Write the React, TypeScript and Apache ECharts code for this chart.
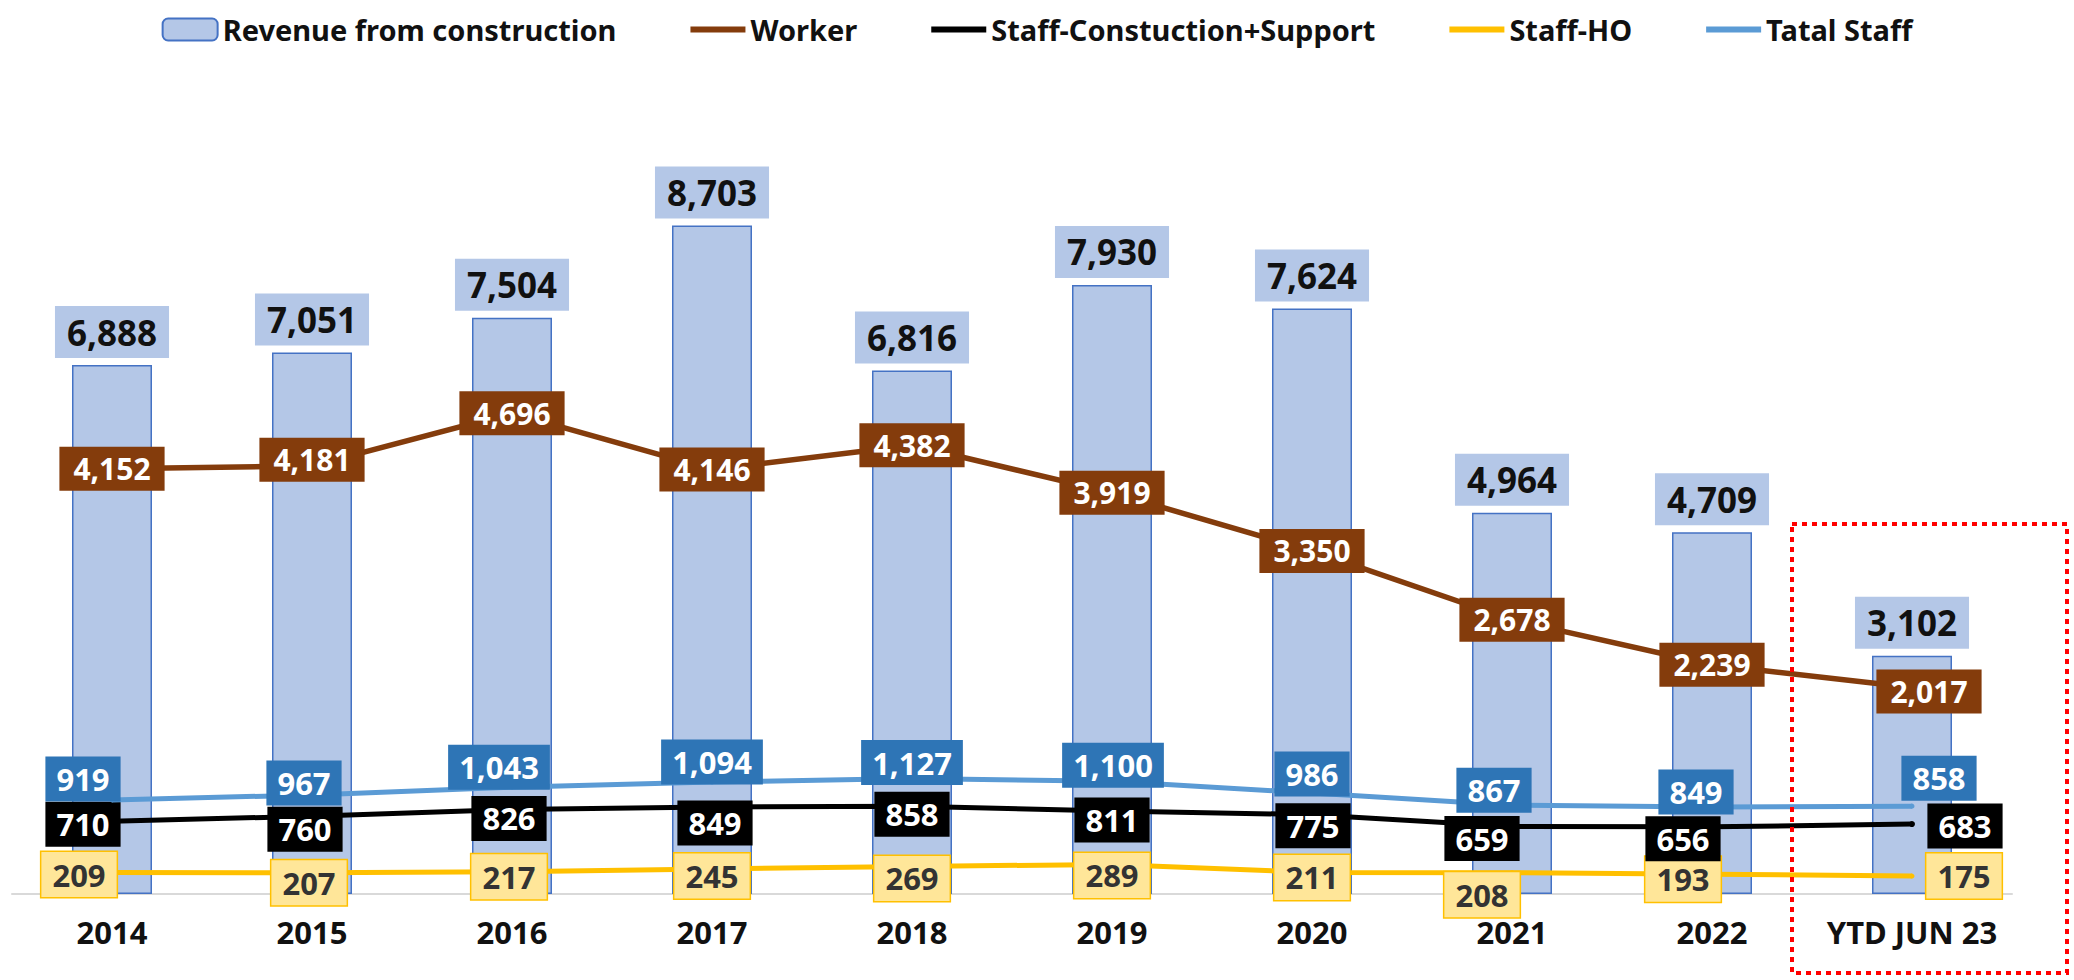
import React, { useEffect, useRef } from "react";
import * as echarts from "echarts";

const categories = ["2014", "2015", "2016", "2017", "2018", "2019", "2020", "2021", "2022", "YTD JUN 23"];
const revenue = [6888, 7051, 7504, 8703, 6816, 7930, 7624, 4964, 4709, 3102];
const worker = [4152, 4181, 4696, 4146, 4382, 3919, 3350, 2678, 2239, 2017];
const staffConstSupport = [710, 760, 826, 849, 858, 811, 775, 659, 656, 683];
const staffHO = [209, 207, 217, 245, 269, 289, 211, 208, 193, 175];
const totalStaff = [919, 967, 1043, 1094, 1127, 1100, 986, 867, 849, 858];

const FONT = "'Noto Sans', 'Open Sans', sans-serif";
const fmt = (p: any) => Number(p.value).toLocaleString("en-US");

export default function App() {
  const ref = useRef<HTMLDivElement>(null);

  useEffect(() => {
    if (!ref.current) return;
    const chart = echarts.init(ref.current, null, { renderer: "svg" });

    // label nudges (style only)
    const workerShift = [[0, 0], [0, -6], [0, 0], [0, 0], [0, 0], [0, 0], [0, 0], [0, 0], [0, 0], [17, 4]];
    const totalShift = [[-29, -21], [-8, -12], [-13, -20], [0, -20], [0, -16], [1, -16], [0, -19], [-18, -15], [-16, -15], [27, -28]];
    const blackShift = [[-29, 3], [-7, 13], [-3, 9], [3, 16], [0, 8], [0, 9], [1, 11], [-30, 12], [-29, 12], [53, 2]];
    const hoShift = [[-33, 2], [-3, 10], [-3, 5], [0, 7], [0, 12], [0, 11], [0, 5], [-30, 22], [-29, 5], [52, 0]];

    const withShift = (vals: number[], shifts: number[][]) =>
      vals.map((v, i) => ({ value: v, label: { offset: shifts[i] } }));

    const lineLabel = (bg: string, color: string, size: number, padH: number, border?: string) => ({
      show: true,
      position: "inside",
      formatter: fmt,
      backgroundColor: bg,
      borderColor: border || bg,
      borderWidth: border ? 1.5 : 0,
      color,
      fontSize: size,
      lineHeight: size + 6,
      fontWeight: "bold",
      fontFamily: FONT,
      padding: [4, padH],
    });

    // legend line icon: thick bar centered in a 55x22 box
    const lineIcon = "path://M0,0 M55,22 M0,8 L55,8 L55,14 L0,14 Z";

    const option: any = {
      animation: false,
      backgroundColor: "#ffffff",
      textStyle: { fontFamily: FONT },
      legend: {
        top: 10,
        left: "center",
        itemWidth: 55,
        itemHeight: 22,
        itemGap: 74,
        textStyle: { fontSize: 29, fontWeight: "bold", color: "#111", fontFamily: FONT },
        data: [
          { name: "Revenue from construction" },
          { name: "Worker", icon: lineIcon },
          { name: "Staff-Constuction+Support", icon: lineIcon },
          { name: "Staff-HO", icon: lineIcon },
          { name: "Tatal Staff", icon: lineIcon },
        ],
      },
      grid: { left: 12, right: 62, top: 126, bottom: 86, containLabel: false },
      xAxis: {
        type: "category",
        data: categories,
        axisTick: { show: false },
        axisLine: { lineStyle: { color: "#D9D9D9", width: 2 } },
        axisLabel: {
          interval: 0,
          margin: 22,
          fontSize: 31,
          fontWeight: "bold",
          color: "#111",
          fontFamily: FONT,
        },
      },
      yAxis: [
        { type: "value", min: 0, max: 10000, show: false, splitLine: { show: false } },
        { type: "value", min: 0, max: 7500, show: false, splitLine: { show: false } },
      ],
      series: [
        {
          name: "Revenue from construction",
          type: "bar",
          yAxisIndex: 0,
          barWidth: 80,
          data: revenue,
          itemStyle: { color: "#B4C7E7", borderColor: "#4472C4", borderWidth: 1.5 },
          label: {
            show: true,
            position: "top",
            distance: 7,
            formatter: fmt,
            backgroundColor: "#B4C7E7",
            color: "#111",
            fontSize: 35,
            lineHeight: 42,
            fontWeight: "bold",
            fontFamily: FONT,
            padding: [5, 12],
          },
          z: 1,
        },
        {
          name: "Worker",
          type: "line",
          yAxisIndex: 1,
          data: withShift(worker, workerShift),
          lineStyle: { color: "#843C0C", width: 5.5 },
          itemStyle: { color: "#843C0C" },
          symbol: "circle",
          symbolSize: 5,
          label: lineLabel("#843C0C", "#ffffff", 30, 14),
          z: 5,
        },
        {
          name: "Staff-Constuction+Support",
          type: "line",
          yAxisIndex: 1,
          data: withShift(staffConstSupport, blackShift),
          lineStyle: { color: "#000000", width: 5 },
          itemStyle: { color: "#000000" },
          symbol: "circle",
          symbolSize: 6,
          label: lineLabel("#000000", "#ffffff", 31, 11),
          z: 4,
        },
        {
          name: "Staff-HO",
          type: "line",
          yAxisIndex: 1,
          data: withShift(staffHO, hoShift),
          lineStyle: { color: "#FFC000", width: 5 },
          itemStyle: { color: "#FFC000" },
          symbol: "circle",
          symbolSize: 5,
          label: lineLabel("#FFE699", "#333333", 31, 11, "#FFC000"),
          z: 3,
        },
        {
          name: "Tatal Staff",
          type: "line",
          yAxisIndex: 1,
          data: withShift(totalStaff, totalShift),
          lineStyle: { color: "#5B9BD5", width: 5 },
          itemStyle: { color: "#5B9BD5" },
          symbol: "circle",
          symbolSize: 5,
          label: lineLabel("#2E75B6", "#ffffff", 31, 11),
          z: 6,
        },
      ],
      graphic: [
        {
          type: "rect",
          shape: { x: 1792, y: 524, width: 275, height: 449 },
          style: { fill: "none", stroke: "#FF0000", lineWidth: 4, lineDash: [5, 5] },
          z: 100,
        },
      ],
    };

    chart.setOption(option);
    return () => chart.dispose();
  }, []);

  return (
    <div
      ref={ref}
      style={{ position: "absolute", left: 0, top: 0, width: 2074, height: 980, background: "#fff" }}
    />
  );
}
